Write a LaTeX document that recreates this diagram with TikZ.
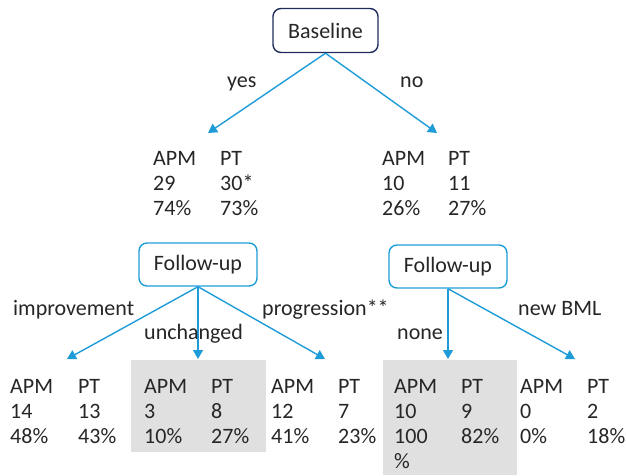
\documentclass[tikz,border=0pt]{standalone}
\usepackage{fontspec}
\setmainfont{Carlito}
\usetikzlibrary{arrows.meta}
\definecolor{arrowblue}{HTML}{1E9CD8}
\definecolor{navy}{HTML}{1F2C5C}
\definecolor{greyfill}{HTML}{E0E0E0}
\definecolor{ink}{HTML}{262626}
\begin{document}
\begin{tikzpicture}[x=1pt,y=-1pt,
  font=\fontsize{22}{25}\selectfont,
  txt/.style={anchor=base west, inner sep=0pt, text=ink},
  conn/.style={draw=arrowblue, line width=1.4pt, -{Triangle[length=9pt,width=10pt]}},
  basebox/.style={draw=navy, line width=1.4pt, rounded corners=8pt, minimum width=105pt, minimum height=44pt, text=ink, inner sep=0pt},
  fubox/.style={draw=arrowblue, line width=1.4pt, rounded corners=8pt, minimum width=118pt, minimum height=43pt, text=ink, inner sep=0pt}]
\useasboundingbox (0,0) rectangle (626,475);
% shaded groups
\fill[greyfill] (131,360) rectangle (266,452);
\fill[greyfill] (383,360) rectangle (517,475);
% boxes
\node[basebox] (base) at (325.5,30.5) {Baseline};
\node[fubox] (fu1) at (198,264.5) {Follow-up};
\node[fubox] (fu2) at (448,266.5) {Follow-up};
% arrow tips
\coordinate (tyes) at (208,133);
\coordinate (tno) at (437,133);
\coordinate (timp) at (67,359);
\coordinate (tunc) at (198,359);
\coordinate (tpro) at (325,359);
\coordinate (tnone) at (448,359);
\coordinate (tnew) at (575,359);
\draw[conn] (base.south) -- (tyes);
\draw[conn] (base.south) -- (tno);
\draw[conn] (fu1.south) -- (timp);
\draw[conn] (fu1.south) -- (tunc);
\draw[conn] (fu1.south) -- (tpro);
\draw[conn] (fu2.south) -- (tnone);
\draw[conn] (fu2.south) -- (tnew);
% labels
\node[txt] (lyes) at (227,87) {yes};
\node[txt] (lno) at (400,87) {no};
\node[txt] (limp) at (13,315) {improvement};
\node[txt] (lunc) at (144,339) {unchanged};
\node[txt] (lpro) at (262,315) {progression**};
\node[txt] (lnone) at (397,339) {none};
\node[txt] (lnew) at (518,315) {new BML};
% statistics columns
\foreach \cx/\cy/\la/\lb/\lc [count=\n] in {
  153/165/APM/29/74\%, 220/165/PT/30*/73\%, 382/165/APM/10/26\%, 448/165/PT/11/27\%,
  10/393.5/APM/14/48\%, 78/393.5/PT/13/43\%, 144/393.5/APM/3/10\%, 211/393.5/PT/8/27\%,
  271/393.5/APM/12/41\%, 338/393.5/PT/7/23\%, 394/393.5/APM/10/100, 461/393.5/PT/9/82\%,
  520/393.5/APM/0/0\%, 587/393.5/PT/2/18\%}{
  \node[txt] (c\n a) at (\cx,\cy) {\la};
  \node[txt] (c\n b) at (\cx,{\cy+25}) {\lb};
  \node[txt] (c\n c) at (\cx,{\cy+50}) {\lc};
}
\node[txt] (c11d) at (394,468.5) {\%};
\end{tikzpicture}
\end{document}
